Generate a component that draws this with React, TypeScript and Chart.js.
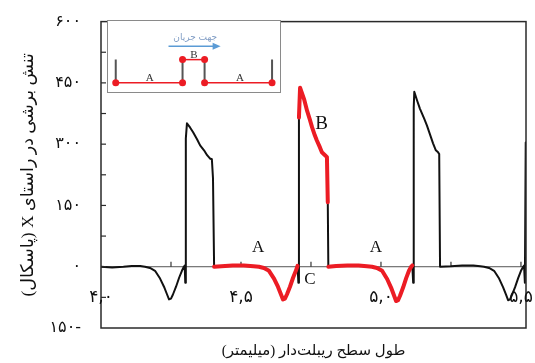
import React, { useEffect, useRef } from 'react';
import { Chart, registerables } from 'chart.js';

Chart.register(...registerables);

// ---------- main chart data (x: mm, y: Pa) ----------
const CURVE_X = [
  4.000, 4.040, 4.080, 4.110, 4.140, 4.157, 4.175, 4.193, 4.211, 4.225, 4.236, 4.243, 4.250, 4.257, 4.268, 4.279, 4.289, 4.296, 4.299,
  4.301, 4.303, 4.307, 4.318, 4.329, 4.343, 4.354, 4.368, 4.379, 4.389, 4.396, 4.400, 4.404,
  4.430, 4.470, 4.510, 4.545, 4.564, 4.582, 4.600, 4.618, 4.632, 4.643, 4.650, 4.657, 4.664, 4.675, 4.686, 4.696, 4.702,
  4.705, 4.707, 4.711, 4.725, 4.736, 4.746, 4.754, 4.764, 4.771, 4.782, 4.789, 4.800, 4.807, 4.810, 4.812,
  4.840, 4.880, 4.920, 4.950, 4.968, 4.986, 5.004, 5.022, 5.036, 5.047, 5.054, 5.061, 5.068, 5.079, 5.090, 5.100, 5.108, 5.112,
  5.115, 5.117, 5.119, 5.129, 5.139, 5.154, 5.164, 5.175, 5.186, 5.196, 5.204, 5.208, 5.211,
  5.250, 5.290, 5.330, 5.355, 5.368, 5.386, 5.404, 5.422, 5.436, 5.447, 5.454, 5.461, 5.468, 5.479, 5.490, 5.500, 5.508, 5.511,
  5.514, 5.517,
];
const CURVE_Y = [
  0, -2, 0, 2, 2, 0, -3, -10, -29, -49, -68, -80, -78, -68, -49, -27, -10, 0, 3,
  -39, 314, 351, 341, 329, 312, 297, 285, 273, 265, 263, 217, 0,
  1, 3, 3, 1, 0, -3, -10, -29, -49, -68, -80, -78, -68, -49, -27, -10, 2,
  -39, 365, 438, 411, 382, 360, 341, 321, 309, 292, 280, 273, 268, 158, 0,
  2, 3, 3, 1, 0, -3, -10, -30, -51, -71, -84, -82, -71, -51, -28, -10, 0, 3,
  -39, 390, 428, 407, 387, 363, 346, 324, 302, 285, 280, 276, 0,
  1, 3, 3, 1, 0, -3, -10, -29, -50, -69, -82, -80, -69, -50, -28, -10, 0, 3,
  -39, 304,
];

// highlighted (red) parts of the curve
const RED_A1_X = [4.404, 4.430, 4.470, 4.510, 4.545, 4.564, 4.582, 4.600, 4.618, 4.632, 4.643, 4.650, 4.657, 4.664, 4.675, 4.686, 4.696, 4.702];
const RED_A1_Y = [0, 1, 3, 3, 1, 0, -3, -10, -29, -49, -68, -80, -78, -68, -49, -27, -10, 2];
const RED_B_X = [4.707, 4.711, 4.725, 4.736, 4.746, 4.754, 4.764, 4.771, 4.782, 4.789, 4.800, 4.807, 4.810];
const RED_B_Y = [365, 438, 411, 382, 360, 341, 321, 309, 292, 280, 273, 268, 158];
const RED_A2_X = [4.812, 4.840, 4.880, 4.920, 4.950, 4.968, 4.986, 5.004, 5.022, 5.036, 5.047, 5.054, 5.061, 5.068, 5.079, 5.090, 5.100, 5.108, 5.112];
const RED_A2_Y = [0, 2, 3, 3, 1, 0, -3, -10, -30, -51, -71, -84, -82, -71, -51, -28, -10, 0, 3];

const X_MIN = 4.0;
const X_MAX = 5.518;
const X_MINOR_STEP = 0.25;
const Y_MIN = -150;
const Y_MAX = 600;
const Y_MINOR_STEP = 75;
const X_LABEL_LEVEL = -75;

const Y_TICK_VALUES = [-150, 0, 150, 300, 450, 600];
const Y_TICK_LABELS = ['۱۵۰-', '۰', '۱۵۰', '۳۰۰', '۴۵۰', '۶۰۰'];
const X_TICK_VALUES = [4.0, 4.5, 5.0, 5.5];
const X_TICK_LABELS = ['۴,۰', '۴,۵', '۵,۰', '۵,۵'];

const X_TITLE = 'طول سطح ریبلت\u200Cدار (میلیمتر)';
const Y_TITLE = 'تنش برشی در راستای X (پاسکال)';

const NOTE_TEXT = ['A', 'A', 'B', 'C'];
const NOTE_X = [4.561, 4.982, 4.788, 4.746];
const NOTE_Y = [46, 46, 350, -32];

// ---------- inset schematic data ----------
const INSET_PROFILE_X = [0, 1, 1, 1.33, 1.33, 2.34];
const INSET_PROFILE_Y = [0, 0, 1, 1, 0, 0];
const INSET_WALL_X = [0, 0, null, 2.34, 2.34];
const INSET_WALL_Y = [0, 1, null, 0, 1];
const INSET_ARROW_X = [0.79, 1.57];
const INSET_ARROW_Y = 1.58;
const INSET_TEXT = ['A', 'B', 'A', 'جهت جریان'];
const INSET_TEXT_X = [0.51, 1.17, 1.86, 1.19];
const INSET_TEXT_Y = [0.19, 1.19, 0.19, 1.96];

const RED = '#ec1c24';
const SERIF = "'Liberation Serif', 'DejaVu Sans', serif";
const PERSIAN = "'DejaVu Sans', sans-serif";
const rtl = (s: string) => '\u202B' + s + '\u202C';

const pts = (xs: (number | null)[], ys: (number | null)[]) =>
  xs.map((x, i) => ({ x: x as number, y: (x === null ? null : ys[i]) as number }));

const decorPlugin = {
  id: 'decor',
  beforeDatasetsDraw(chart: any) {
    const { ctx, chartArea: a, scales } = chart;
    const xs = scales.x;
    const ys = scales.y;
    const y0 = ys.getPixelForValue(0);
    ctx.save();
    ctx.strokeStyle = '#555';
    ctx.lineWidth = 1;
    ctx.beginPath();
    ctx.moveTo(a.left, y0);
    ctx.lineTo(a.right, y0);
    ctx.stroke();
    ctx.strokeStyle = '#333';
    ctx.lineWidth = 1.2;
    for (let v = X_MIN + X_MINOR_STEP; v <= X_MAX + 1e-9; v += X_MINOR_STEP) {
      const px = xs.getPixelForValue(v);
      ctx.beginPath();
      ctx.moveTo(px, y0);
      ctx.lineTo(px, y0 - 5);
      ctx.stroke();
    }
    ctx.restore();
  },
  afterDatasetsDraw(chart: any) {
    const { ctx, scales } = chart;
    ctx.save();
    ctx.fillStyle = '#111';
    ctx.textAlign = 'center';
    ctx.textBaseline = 'middle';
    NOTE_TEXT.forEach((t, i) => {
      ctx.font = (t === 'B' ? '19px ' : '17px ') + SERIF;
      ctx.fillText(t, scales.x.getPixelForValue(NOTE_X[i]), scales.y.getPixelForValue(NOTE_Y[i]));
    });
    ctx.restore();
  },
  afterDraw(chart: any) {
    const { ctx, chartArea: a, scales } = chart;
    ctx.save();
    // frame
    ctx.strokeStyle = '#2a2a2a';
    ctx.lineWidth = 1.5;
    ctx.strokeRect(a.left, a.top, a.right - a.left, a.bottom - a.top);
    // inward ticks on left axis
    ctx.lineWidth = 1.2;
    for (let v = Y_MIN + Y_MINOR_STEP; v < Y_MAX; v += Y_MINOR_STEP) {
      const py = scales.y.getPixelForValue(v);
      ctx.beginPath();
      ctx.moveTo(a.left, py);
      ctx.lineTo(a.left + 5, py);
      ctx.stroke();
    }
    // x tick labels inside plot
    ctx.fillStyle = '#111';
    ctx.font = '17px ' + PERSIAN;
    ctx.textAlign = 'center';
    ctx.textBaseline = 'middle';
    const ly = scales.y.getPixelForValue(X_LABEL_LEVEL);
    X_TICK_VALUES.forEach((v, i) => {
      ctx.fillText(X_TICK_LABELS[i], scales.x.getPixelForValue(v), ly);
    });
    ctx.restore();
  },
};

const insetPlugin = {
  id: 'insetDecor',
  afterDraw(chart: any) {
    const { ctx, width, height, scales } = chart;
    const sx = scales.x;
    const sy = scales.y;
    ctx.save();
    ctx.strokeStyle = '#8a8a8a';
    ctx.lineWidth = 1;
    ctx.strokeRect(0.5, 0.5, width - 1, height - 1);
    // arrow
    const x1 = sx.getPixelForValue(INSET_ARROW_X[0]);
    const x2 = sx.getPixelForValue(INSET_ARROW_X[1]);
    const ay = sy.getPixelForValue(INSET_ARROW_Y);
    ctx.strokeStyle = '#5b9bd5';
    ctx.fillStyle = '#5b9bd5';
    ctx.lineWidth = 1.5;
    ctx.beginPath();
    ctx.moveTo(x1, ay);
    ctx.lineTo(x2 - 6, ay);
    ctx.stroke();
    ctx.beginPath();
    ctx.moveTo(x2, ay);
    ctx.lineTo(x2 - 8, ay - 3.5);
    ctx.lineTo(x2 - 8, ay + 3.5);
    ctx.closePath();
    ctx.fill();
    // texts
    ctx.textAlign = 'center';
    ctx.textBaseline = 'middle';
    INSET_TEXT.forEach((t, i) => {
      const isLatin = /^[A-Z]$/.test(t);
      ctx.font = isLatin ? '11px ' + SERIF : '9px ' + PERSIAN;
      ctx.fillStyle = isLatin ? '#333' : '#7f9cc4';
      ctx.fillText(t, sx.getPixelForValue(INSET_TEXT_X[i]), sy.getPixelForValue(INSET_TEXT_Y[i]));
    });
    ctx.restore();
  },
};

export default function App() {
  const mainRef = useRef<HTMLCanvasElement>(null);
  const insetRef = useRef<HTMLCanvasElement>(null);

  useEffect(() => {
    const lineDs = (data: any[], color: string, w: number) => ({
      data,
      showLine: true,
      borderColor: color,
      borderWidth: w,
      pointRadius: 0,
      tension: 0,
      borderJoinStyle: 'round' as const,
      borderCapStyle: 'round' as const,
    });

    const main = new Chart(mainRef.current as HTMLCanvasElement, {
      type: 'scatter',
      data: {
        datasets: [
          { ...lineDs(pts(RED_B_X, RED_B_Y), RED, 4), order: 0 },
          { ...lineDs(pts(RED_A1_X, RED_A1_Y), RED, 4), order: 0 },
          { ...lineDs(pts(RED_A2_X, RED_A2_Y), RED, 4), order: 0 },
          { ...lineDs(pts(CURVE_X, CURVE_Y), '#111', 2), order: 1 },
        ],
      },
      options: {
        responsive: false,
        animation: false,
        layout: { padding: { top: 20, right: 9, left: 0, bottom: 0 } },
        plugins: { legend: { display: false }, tooltip: { enabled: false } },
        events: [],
        scales: {
          x: {
            type: 'linear',
            min: X_MIN,
            max: X_MAX,
            ticks: { display: false },
            grid: { display: false },
            border: { display: false },
            title: {
              display: true,
              text: rtl(X_TITLE),
              color: '#111',
              font: { family: SERIF, size: 15 },
              padding: { top: 0, bottom: 3 },
            },
            afterFit(s: any) { s.height = 35; },
          },
          y: {
            type: 'linear',
            min: Y_MIN,
            max: Y_MAX,
            ticks: {
              stepSize: Y_MINOR_STEP,
              padding: 12,
              color: '#111',
              font: { family: PERSIAN, size: 16 },
              callback: (v: any) => {
                const i = Y_TICK_VALUES.indexOf(Number(v));
                return i >= 0 ? Y_TICK_LABELS[i] : '';
              },
            },
            grid: { display: false },
            border: { display: false },
            title: {
              display: true,
              text: rtl(Y_TITLE),
              color: '#111',
              font: { family: SERIF, size: 17.5 },
              padding: { top: 18, bottom: 0 },
            },
            afterFit(s: any) { s.width = 101; },
          },
        },
      } as any,
      plugins: [decorPlugin],
    });

    const inset = new Chart(insetRef.current as HTMLCanvasElement, {
      type: 'scatter',
      data: {
        datasets: [
          {
            data: pts(INSET_PROFILE_X, INSET_PROFILE_Y),
            showLine: true,
            borderWidth: 1.5,
            borderColor: RED,
            pointRadius: 3.5,
            pointBackgroundColor: RED,
            pointBorderWidth: 0,
            segment: {
              borderColor: (c: any) => (c.p0.parsed.x === c.p1.parsed.x ? '#555' : RED),
              borderWidth: (c: any) => (c.p0.parsed.x === c.p1.parsed.x ? 2 : 1.5),
            },
            order: 0,
            clip: false,
          } as any,
          {
            data: pts(INSET_WALL_X, INSET_WALL_Y),
            showLine: true,
            borderWidth: 2,
            borderColor: '#555',
            pointRadius: 0,
            spanGaps: false,
            order: 1,
            clip: false,
          } as any,
        ],
      },
      options: {
        responsive: false,
        animation: false,
        events: [],
        layout: { padding: 0 },
        plugins: { legend: { display: false }, tooltip: { enabled: false } },
        scales: {
          x: { type: 'linear', display: false, min: -0.071, max: 2.414 },
          y: { type: 'linear', display: false, min: -0.27, max: 2.54 },
        },
      } as any,
      plugins: [insetPlugin],
    });

    return () => {
      main.destroy();
      inset.destroy();
    };
  }, []);

  return (
    <div style={{ position: 'absolute', left: 0, top: 0, width: 535, height: 363, background: '#fff' }}>
      <canvas ref={mainRef} width={535} height={363} style={{ display: 'block', width: 535, height: 363 }} />
      <canvas
        ref={insetRef}
        width={174}
        height={73}
        style={{ position: 'absolute', left: 107, top: 20, width: 174, height: 73, background: '#fff' }}
      />
    </div>
  );
}
